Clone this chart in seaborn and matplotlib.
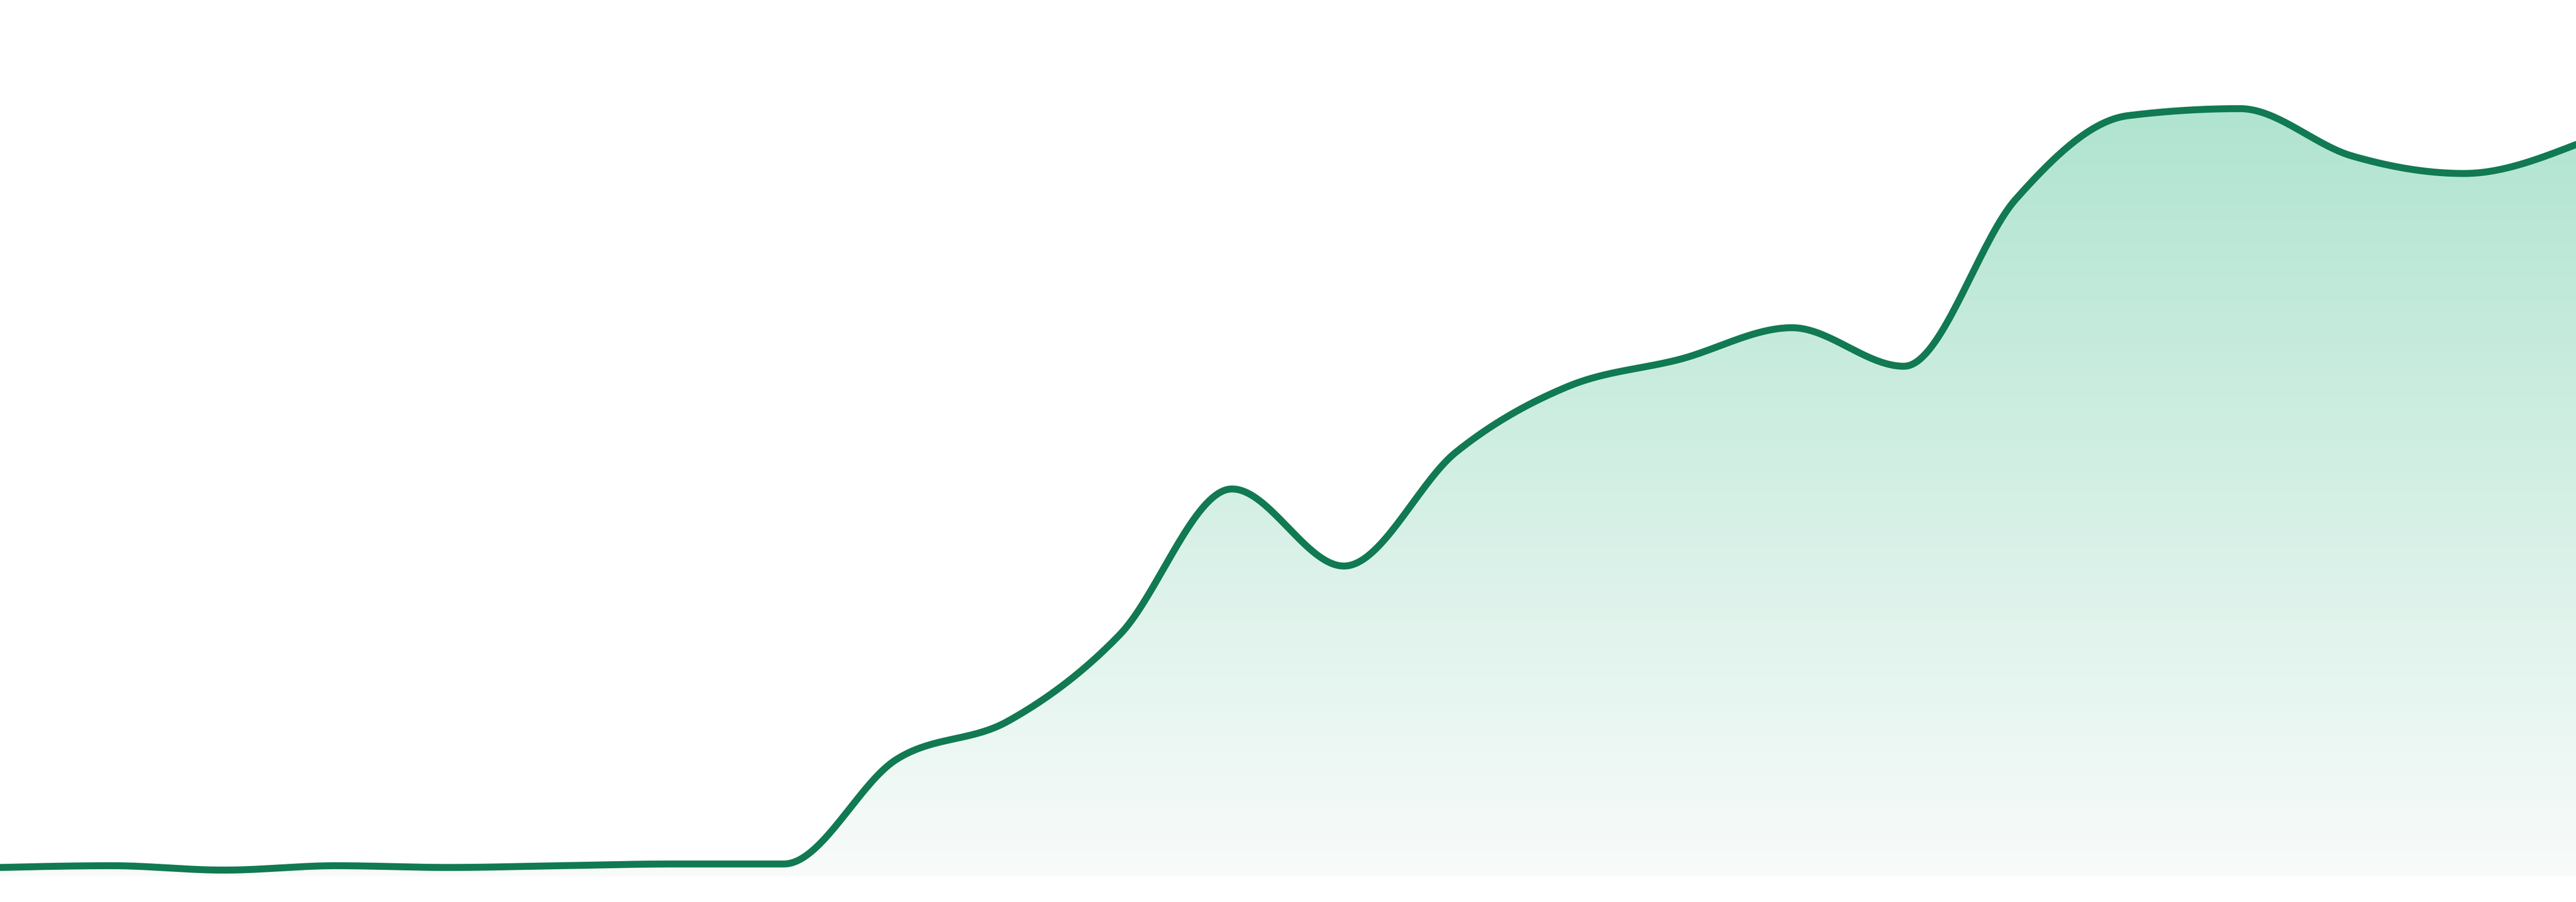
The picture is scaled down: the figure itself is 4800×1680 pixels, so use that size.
import numpy as np
import pandas as pd
import matplotlib
matplotlib.use("Agg")
import matplotlib.pyplot as plt
import seaborn as sns
from matplotlib.colors import LinearSegmentedColormap

sns.set_theme(style="white")

# Values (24 evenly spaced samples)
idx = list(range(24))
values = [1.0, 1.2, 0.7, 1.2, 1.0, 1.2, 1.4, 1.4, 13.3, 17.7, 27.6, 44.2,
          35.4, 48.4, 55.9, 59.0, 62.6, 58.2, 77.3, 86.8, 87.6, 82.2, 80.2, 83.5]

line_color = "#117a52"
top_color = "#b0e4d0"
bottom_color = "#f8fbfa"


def monotone_x(x, y, n=40):
    # d3 curveMonotoneX style smoothing for drawing the line
    x = np.asarray(x, float)
    y = np.asarray(y, float)
    h = np.diff(x)
    s = np.diff(y) / h
    t = np.zeros_like(y)
    for i in range(1, len(y) - 1):
        s0, s1 = s[i - 1], s[i]
        p = (s0 * h[i] + s1 * h[i - 1]) / (h[i - 1] + h[i])
        t[i] = (np.sign(s0) + np.sign(s1)) * min(abs(s0), abs(s1), 0.5 * abs(p))
    t[0] = (3 * s[0] - t[1]) / 2
    t[-1] = (3 * s[-1] - t[-2]) / 2
    xs, ys = [], []
    for i in range(len(y) - 1):
        u = np.linspace(0, 1, n, endpoint=(i == len(y) - 2))
        dx = h[i]
        h00 = 2 * u**3 - 3 * u**2 + 1
        h10 = u**3 - 2 * u**2 + u
        h01 = -2 * u**3 + 3 * u**2
        h11 = u**3 - u**2
        xs.append(x[i] + u * dx)
        ys.append(h00 * y[i] + h10 * dx * t[i] + h01 * y[i + 1] + h11 * dx * t[i + 1])
    return np.concatenate(xs), np.concatenate(ys)


cx, cy = monotone_x(idx, values)
curve = pd.DataFrame({"x": cx, "y": cy})

fig = plt.figure(figsize=(16, 5.6), dpi=300)
ax = fig.add_axes([0, 0, 1, 1])
ax.set_xlim(0, 23)
ax.set_ylim(-2.94, 100)

# gradient fill clipped to the area under the curve
fill = ax.fill_between(curve["x"], curve["y"], 0, color="none", lw=0)
cmap = LinearSegmentedColormap.from_list("fade", [bottom_color, top_color])
grad = np.linspace(0, 1, 256).reshape(-1, 1)
img = ax.imshow(grad, cmap=cmap, aspect="auto", origin="lower",
                extent=[0, 23, 0, max(values)], zorder=1)
img.set_clip_path(fill.get_paths()[0], transform=ax.transData)

sns.lineplot(data=curve, x="x", y="y", ax=ax, color=line_color, lw=3.1,
             sort=False, estimator=None, zorder=3)

ax.set_axis_off()
fig.savefig("out.png", dpi=300, facecolor="white")
